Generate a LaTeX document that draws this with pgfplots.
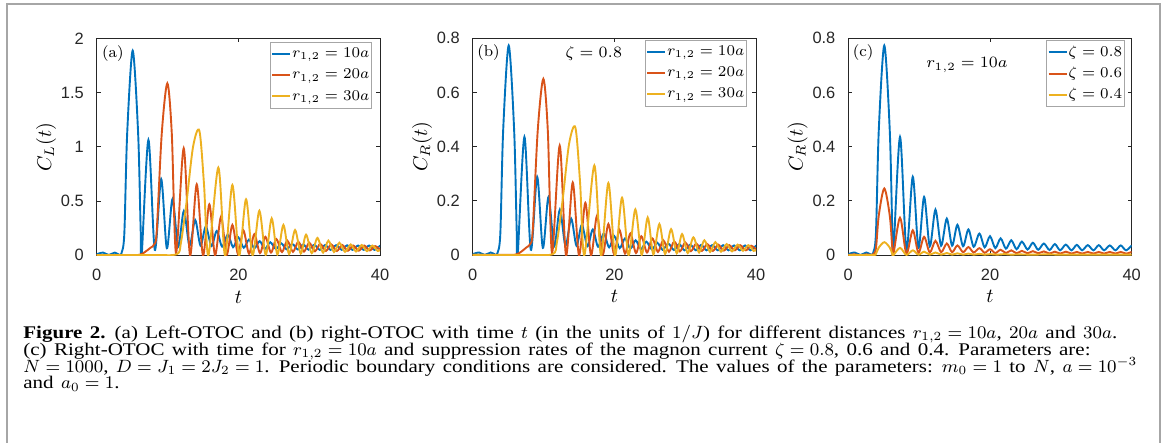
\RequirePackage{fix-cm}
\documentclass[border=0pt]{standalone}
\usepackage{fontspec}
\usepackage{pgfplots}
\usepackage{pgfplotstable}
\pgfplotsset{compat=1.18}
\newfontfamily\tickfont{Liberation Sans}
\newfontfamily\capfont[FakeStretch=1.18, WordSpace=1.4]{Liberation Serif}

\definecolor{mblue}{HTML}{0072BD}
\definecolor{mred}{HTML}{D95319}
\definecolor{myel}{HTML}{EDB120}

% r = 10a, panel (a)
\pgfplotstableread{
t C
0 0.010
0.9 0.025
1.7 0.003
2.55 0.025
3.2 0.004
3.5 0.02
3.9 0.2
4.3 1.12
5.08 1.886
5.85 1.12
6.2 0.25
6.35 0.0
7.3 1.063
8.2 0.05
9.1 0.703
9.9 0.065
10.7 0.519
11.5 0.08
12.3 0.408
13.1 0.09
13.9 0.325
14.65 0.09
15.4 0.265
16.2 0.085
16.95 0.225
17.7 0.08
18.5 0.19
19.25 0.075
20.0 0.165
20.75 0.07
21.5 0.145
22.25 0.065
23.0 0.13
23.75 0.06
24.5 0.12
25.3 0.058
26.05 0.11
26.8 0.055
27.6 0.105
28.4 0.053
29.15 0.1
29.9 0.052
30.7 0.097
31.5 0.05
32.25 0.095
33.0 0.05
33.8 0.093
34.6 0.05
35.35 0.092
36.1 0.05
36.9 0.09
37.7 0.05
38.45 0.09
39.2 0.05
40.0 0.09
}\blueA

% r = 20a, panel (a)
\pgfplotstableread{
t C
0 0.002
4.0 0.002
6.0 0.004
6.8 0.03
7.6 0.07
8.1 0.1
8.47 0.22
9.18 1.12
9.97 1.585
10.6 1.12
11.2 0.02
12.28 0.986
13.17 0.0
14.12 0.654
15.0 0.0
15.9 0.47
16.7 0.0
17.55 0.356
18.35 0.005
19.15 0.28
19.95 0.01
20.7 0.23
21.5 0.015
22.25 0.195
23.05 0.02
23.8 0.17
24.6 0.025
25.35 0.15
26.15 0.03
26.9 0.135
27.7 0.032
28.45 0.125
29.25 0.035
30.0 0.115
30.8 0.037
31.55 0.105
32.35 0.04
33.1 0.1
33.9 0.04
34.65 0.095
35.45 0.042
36.2 0.09
37.0 0.043
37.75 0.09
38.55 0.045
39.3 0.085
40.0 0.05
}\redA

% r = 30a, panel (a)
\pgfplotstableread{
t C
0 0.003
8.0 0.003
11.3 0.01
11.9 0.12
12.7 0.5
13.6 1.0
14.49 1.148
15.15 0.65
15.76 0.0
17.17 0.808
18.1 0.0
19.15 0.648
20.1 0.0
21.08 0.516
22.0 0.0
22.96 0.411
23.85 0.003
24.7 0.34
25.5 0.008
26.35 0.28
27.15 0.012
28.0 0.233
28.8 0.016
29.55 0.19
30.35 0.02
31.15 0.16
31.95 0.025
32.7 0.135
33.5 0.03
34.25 0.116
35.05 0.032
35.85 0.1
36.6 0.035
37.4 0.095
38.15 0.038
38.9 0.09
39.65 0.04
40.0 0.05
}\yelA

% r = 10a, zeta = 0.8, panels (b) and (c)
\pgfplotstableread{
t C
0 0.004
0.9 0.01
1.7 0.001
2.55 0.01
3.2 0.002
3.5 0.008
3.9 0.08
4.3 0.46
5.08 0.773
5.85 0.46
6.2 0.1
6.35 0.0
7.3 0.436
8.2 0.02
9.1 0.289
9.9 0.027
10.7 0.215
11.5 0.033
12.3 0.168
13.1 0.035
13.9 0.135
14.65 0.035
15.4 0.112
16.2 0.033
16.95 0.095
17.7 0.031
18.5 0.08
19.25 0.029
20.0 0.07
20.75 0.026
21.5 0.062
22.25 0.024
23.0 0.055
23.75 0.022
24.5 0.05
25.3 0.021
26.05 0.046
26.8 0.02
27.6 0.043
28.4 0.019
29.15 0.041
29.9 0.018
30.7 0.039
31.5 0.018
32.25 0.038
33.0 0.018
33.8 0.037
34.6 0.018
35.35 0.037
36.1 0.018
36.9 0.036
37.7 0.018
38.45 0.036
39.2 0.018
40.0 0.036
}\blueB

% r = 20a, panel (b)
\pgfplotstableread{
t C
0 0.001
4.0 0.001
6.0 0.002
6.8 0.012
7.6 0.029
8.1 0.041
8.47 0.09
9.18 0.46
9.97 0.65
10.6 0.46
11.2 0.008
12.28 0.404
13.17 0.0
14.12 0.268
15.0 0.0
15.9 0.193
16.7 0.0
17.55 0.146
18.35 0.002
19.15 0.115
19.95 0.004
20.7 0.094
21.5 0.006
22.25 0.08
23.05 0.008
23.8 0.07
24.6 0.01
25.35 0.062
26.15 0.012
26.9 0.055
27.7 0.013
28.45 0.051
29.25 0.014
30.0 0.047
30.8 0.015
31.55 0.043
32.35 0.016
33.1 0.041
33.9 0.016
34.65 0.039
35.45 0.017
36.2 0.037
37.0 0.018
37.75 0.037
38.55 0.018
39.3 0.035
40.0 0.02
}\redB

% r = 30a, panel (b)
\pgfplotstableread{
t C
0 0.001
8.0 0.001
11.3 0.004
11.9 0.05
12.7 0.205
13.6 0.41
14.49 0.471
15.15 0.27
15.76 0.0
17.17 0.331
18.1 0.0
19.15 0.266
20.1 0.0
21.08 0.212
22.0 0.0
22.96 0.169
23.85 0.001
24.7 0.139
25.5 0.003
26.35 0.115
27.15 0.005
28.0 0.096
28.8 0.007
29.55 0.078
30.35 0.008
31.15 0.066
31.95 0.01
32.7 0.055
33.5 0.012
34.25 0.048
35.05 0.013
35.85 0.041
36.6 0.014
37.4 0.039
38.15 0.016
38.9 0.037
39.65 0.016
40.0 0.02
}\yelB

% zeta = 0.6, panel (c)
\pgfplotstableread{
t C
0 0.001
0.9 0.003
1.7 0.0
2.55 0.003
3.2 0.001
3.5 0.003
3.9 0.025
4.3 0.146
5.08 0.246
5.85 0.146
6.2 0.03
6.35 0.0
7.3 0.138
8.2 0.006
9.1 0.092
9.9 0.009
10.7 0.068
11.5 0.01
12.3 0.053
13.1 0.011
13.9 0.043
14.65 0.011
15.4 0.036
16.2 0.011
16.95 0.03
17.7 0.01
18.5 0.026
19.25 0.009
20.0 0.022
20.75 0.008
21.5 0.02
22.25 0.008
23.0 0.018
23.75 0.007
24.5 0.016
25.3 0.007
26.05 0.015
26.8 0.007
27.6 0.014
28.4 0.006
29.15 0.013
29.9 0.006
30.7 0.013
31.5 0.006
32.25 0.012
33.0 0.006
33.8 0.012
34.6 0.006
35.35 0.012
36.1 0.006
36.9 0.012
37.7 0.006
38.45 0.012
39.2 0.006
40.0 0.012
}\redC

% zeta = 0.4, panel (c)
\pgfplotstableread{
t C
0 0.0
3.5 0.001
3.9 0.005
4.3 0.028
5.08 0.048
5.85 0.028
6.2 0.006
6.35 0.0
7.3 0.027
8.2 0.001
9.1 0.018
9.9 0.002
10.7 0.013
11.5 0.002
12.3 0.01
13.1 0.002
13.9 0.008
14.65 0.002
15.4 0.007
16.2 0.002
16.95 0.006
17.7 0.002
18.5 0.005
19.25 0.002
20.0 0.004
21.0 0.002
22.0 0.004
23.0 0.002
24.0 0.003
26.0 0.002
28.0 0.003
30.0 0.002
34.0 0.002
40.0 0.002
}\yelC

\pgfplotsset{
  otoc/.style={
    scale only axis, width=141.7pt, height=108.5pt,
    xmin=0, xmax=40, xtick={0,20,40}, ymin=0,
    tick align=inside,
    major tick length=2pt,
    axis line style={black!85, line width=0.5pt},
    tick style={black!85, line width=0.5pt},
    ticklabel style={font=\tickfont\fontsize{8.2}{9}\selectfont, text=black!85},
    /pgf/number format/assume math mode=true,
    xticklabel style={anchor=north, inner sep=0pt, yshift=-6.5pt},
    yticklabel style={anchor=east, inner sep=0pt, xshift=-6.3pt},
    label style={font=\fontsize{9}{10}\selectfont},
    every axis x label/.style={at={(rel axis cs:0.5,0)}, yshift=-20.8pt, anchor=center},
    every axis y label/.style={at={(rel axis cs:0,0.5)}, xshift=-25.3pt, rotate=90, anchor=center},
    xlabel={$t$},
    legend cell align=left,
    legend style={draw=black!35, line width=0.4pt, fill=white, inner sep=0.6pt,
      font=\fontsize{7.5}{9}\selectfont,
      nodes={inner sep=0.4pt, text height=6.8pt, text depth=3pt}},
    legend image code/.code={\draw[#1, line width=1pt] (0pt,0pt) -- (9pt,0pt);},
  },
  curve/.style={line width=0.95pt, smooth, #1},
}
\tikzset{note/.style={inner sep=0pt, font=\fontsize{7.9}{9}\selectfont}}

\begin{document}
\begin{tikzpicture}
\useasboundingbox (0,0) rectangle (583.5pt,-221.5pt);
\draw[black!35, line width=0.7pt] (3.5pt,-240pt) -- (3.5pt,-2pt) -- (580pt,-2pt) -- (580pt,-240pt);

% (a)
\begin{axis}[otoc, at={(48.35pt,-127.65pt)}, anchor=south west,
  ymax=2, ytick={0,0.5,1,1.5,2}, ylabel={$C_L(t)$},
  legend style={at={(rel axis cs:0.9707,0.9843)}, anchor=north east}]
\addplot[curve=mblue] table[x=t, y=C] {\blueA};
\addplot[curve=mred] table[x=t, y=C] {\redA};
\addplot[curve=myel] table[x=t, y=C] {\yelA};
\legend{$r_{1,2}=10a$, $r_{1,2}=20a$, $r_{1,2}=30a$}
\node[note, anchor=west] at (rel axis cs:0.018,0.932) {(a)};
\end{axis}

% (b)
\begin{axis}[otoc, at={(236.35pt,-127.6pt)}, anchor=south west,
  ymax=0.8, ytick={0,0.2,0.4,0.6,0.8}, ylabel={$C_R(t)$},
  legend style={at={(rel axis cs:0.967,0.994)}, anchor=north east}]
\addplot[curve=mblue] table[x=t, y=C] {\blueB};
\addplot[curve=mred] table[x=t, y=C] {\redB};
\addplot[curve=myel] table[x=t, y=C] {\yelB};
\legend{$r_{1,2}=10a$, $r_{1,2}=20a$, $r_{1,2}=30a$}
\node[note, anchor=west] at (rel axis cs:0.015,0.932) {(b)};
\node[note] at (rel axis cs:0.427,0.93) {$\zeta=0.8$};
\end{axis}

% (c)
\begin{axis}[otoc, at={(424.15pt,-127.6pt)}, anchor=south west,
  ymax=0.8, ytick={0,0.2,0.4,0.6,0.8}, ylabel={$C_R(t)$},
  legend style={at={(rel axis cs:0.975,0.991)}, anchor=north east}]
\addplot[curve=mblue] table[x=t, y=C] {\blueB};
\addplot[curve=mred] table[x=t, y=C] {\redC};
\addplot[curve=myel] table[x=t, y=C] {\yelC};
\legend{$\zeta=0.8$, $\zeta=0.6$, $\zeta=0.4$}
\node[note, anchor=west] at (rel axis cs:0.015,0.932) {(c)};
\node[note] at (rel axis cs:0.419,0.876) {$r_{1,2}=10a$};
\end{axis}

% caption
\begin{scope}[every node/.style={anchor=base west, inner sep=0pt, font=\capfont\fontsize{8.9}{10}\selectfont}]
\node at (11.5pt,-169.2pt) {\textbf{Figure 2.} (a) Left-OTOC and (b) right-OTOC with time $t$ (in the units of $1/J$) for different distances $r_{1,2}=10a$, $20a$ and $30a$.};
\node at (11.5pt,-177.6pt) {(c) Right-OTOC with time for $r_{1,2}=10a$ and suppression rates of the magnon current $\zeta=0.8$, 0.6 and 0.4. Parameters are:};
\node at (11.5pt,-186.0pt) {$N=1000$, $D=J_1=2J_2=1$. Periodic boundary conditions are considered. The values of the parameters: $m_0=1$ to $N$, $a=10^{-3}$};
\node at (11.5pt,-194.4pt) {and $a_0=1$.};
\end{scope}
\end{tikzpicture}
\end{document}
